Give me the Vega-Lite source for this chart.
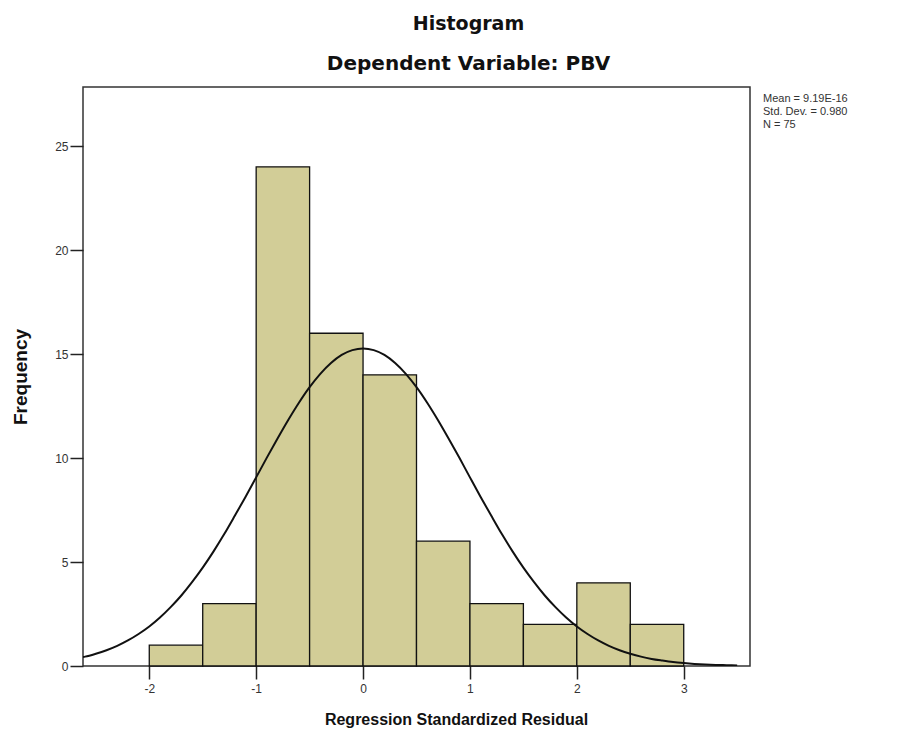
{
  "$schema": "https://vega.github.io/schema/vega-lite/v6.json",
  "width": 667,
  "height": 579,
  "autosize": {"type": "none"},
  "padding": {"left": 83, "top": 87, "right": 151, "bottom": 71},
  "background": "white",
  "title": {
    "text": "Histogram",
    "subtitle": "Dependent Variable: PBV",
    "anchor": "middle",
    "dx": 52,
    "font": "DejaVu Sans",
    "subtitleFont": "DejaVu Sans",
    "fontSize": 19,
    "subtitleFontSize": 20,
    "fontWeight": "bold",
    "subtitleFontWeight": "bold",
    "color": "#111",
    "subtitleColor": "#111",
    "offset": 13,
    "subtitlePadding": 20
  },
  "config": {
    "font": "Liberation Sans",
    "view": {"fill": "#efefef", "stroke": "#333", "strokeWidth": 1.5},
    "axis": {
      "grid": false,
      "domain": false,
      "tickColor": "#222",
      "tickWidth": 1.5,
      "labelFont": "Liberation Sans",
      "labelFontSize": 12,
      "labelColor": "#333",
      "titleFont": "Liberation Sans",
      "titleFontWeight": "bold",
      "titleColor": "#111",
      "labelExpr": "'' + datum.value"
    }
  },
  "layer": [
    {
      "data": {"values": [
        {"bin_start": -2.0, "bin_end": -1.5, "count": 1},
        {"bin_start": -1.5, "bin_end": -1.0, "count": 3},
        {"bin_start": -1.0, "bin_end": -0.5, "count": 24},
        {"bin_start": -0.5, "bin_end": 0.0, "count": 16},
        {"bin_start": 0.0, "bin_end": 0.5, "count": 14},
        {"bin_start": 0.5, "bin_end": 1.0, "count": 6},
        {"bin_start": 1.0, "bin_end": 1.5, "count": 3},
        {"bin_start": 1.5, "bin_end": 2.0, "count": 2},
        {"bin_start": 2.0, "bin_end": 2.5, "count": 4},
        {"bin_start": 2.5, "bin_end": 3.0, "count": 2}
      ]},
      "mark": {"type": "bar", "fill": "#d2cd97", "stroke": "#111", "strokeWidth": 1.3},
      "encoding": {
        "x": {
          "field": "bin_start", "type": "quantitative",
          "scale": {"domain": [-2.62, 3.62], "nice": false, "zero": false},
          "axis": {"values": [-2, -1, 0, 1, 2, 3], "tickSize": 13, "labelPadding": 4, "title": "Regression Standardized Residual", "titleFontSize": 16, "titlePadding": 17, "titleX": 373}
        },
        "x2": {"field": "bin_end"},
        "y": {
          "field": "count", "type": "quantitative",
          "scale": {"domain": [0, 27.84], "nice": false},
          "axis": {"values": [0, 5, 10, 15, 20, 25], "tickSize": 13, "labelPadding": 2, "title": "Frequency", "titleFontSize": 19, "titlePadding": 24}
        },
        "y2": {"datum": 0}
      }
    },
    {
      "data": {"values": [
        {"z": -2.62, "f": 0.43}, {"z": -2.6, "f": 0.45}, {"z": -2.5, "f": 0.59}, {"z": -2.4, "f": 0.76},
        {"z": -2.3, "f": 0.97}, {"z": -2.2, "f": 1.23}, {"z": -2.1, "f": 1.54}, {"z": -2.0, "f": 1.90},
        {"z": -1.9, "f": 2.33}, {"z": -1.8, "f": 2.83}, {"z": -1.7, "f": 3.39}, {"z": -1.6, "f": 4.03},
        {"z": -1.5, "f": 4.73}, {"z": -1.4, "f": 5.50}, {"z": -1.3, "f": 6.33}, {"z": -1.2, "f": 7.22},
        {"z": -1.1, "f": 8.13}, {"z": -1.0, "f": 9.07}, {"z": -0.9, "f": 10.02}, {"z": -0.8, "f": 10.94},
        {"z": -0.7, "f": 11.83}, {"z": -0.6, "f": 12.66}, {"z": -0.5, "f": 13.41}, {"z": -0.4, "f": 14.05},
        {"z": -0.3, "f": 14.57}, {"z": -0.2, "f": 14.96}, {"z": -0.1, "f": 15.19}, {"z": 0.0, "f": 15.27},
        {"z": 0.1, "f": 15.19}, {"z": 0.2, "f": 14.96}, {"z": 0.3, "f": 14.57}, {"z": 0.4, "f": 14.05},
        {"z": 0.5, "f": 13.41}, {"z": 0.6, "f": 12.66}, {"z": 0.7, "f": 11.83}, {"z": 0.8, "f": 10.94},
        {"z": 0.9, "f": 10.02}, {"z": 1.0, "f": 9.07}, {"z": 1.1, "f": 8.13}, {"z": 1.2, "f": 7.22},
        {"z": 1.3, "f": 6.33}, {"z": 1.4, "f": 5.50}, {"z": 1.5, "f": 4.73}, {"z": 1.6, "f": 4.03},
        {"z": 1.7, "f": 3.39}, {"z": 1.8, "f": 2.83}, {"z": 1.9, "f": 2.33}, {"z": 2.0, "f": 1.90},
        {"z": 2.1, "f": 1.54}, {"z": 2.2, "f": 1.23}, {"z": 2.3, "f": 0.97}, {"z": 2.4, "f": 0.76},
        {"z": 2.5, "f": 0.59}, {"z": 2.6, "f": 0.45}, {"z": 2.7, "f": 0.34}, {"z": 2.8, "f": 0.26},
        {"z": 2.9, "f": 0.19}, {"z": 3.0, "f": 0.14}, {"z": 3.1, "f": 0.10}, {"z": 3.2, "f": 0.07},
        {"z": 3.3, "f": 0.05}, {"z": 3.4, "f": 0.04}, {"z": 3.5, "f": 0.03}
      ]},
      "mark": {"type": "line", "color": "#111", "strokeWidth": 2, "interpolate": "monotone", "clip": true},
      "encoding": {
        "x": {"field": "z", "type": "quantitative"},
        "y": {"field": "f", "type": "quantitative"}
      }
    },
    {
      "data": {"values": [
        {"stat": "Mean = 9.19E-16"},
        {"stat": "Std. Dev. = 0.980"},
        {"stat": "N = 75"}
      ]},
      "mark": {"type": "point", "opacity": 0},
      "encoding": {
        "color": {
          "field": "stat", "type": "nominal",
          "scale": {"domain": ["Mean = 9.19E-16", "Std. Dev. = 0.980", "N = 75"], "range": ["#000", "#000", "#000"]},
          "legend": {
            "title": null,
            "orient": "right",
            "offset": -4,
            "padding": 6,
            "rowPadding": 1,
            "symbolSize": 0,
            "symbolOpacity": 0,
            "symbolStrokeWidth": 0,
            "labelOffset": 0,
            "labelFont": "Liberation Sans",
            "labelFontSize": 11,
            "labelColor": "#333",
            "labelLimit": 200
          }
        }
      }
    }
  ]
}
